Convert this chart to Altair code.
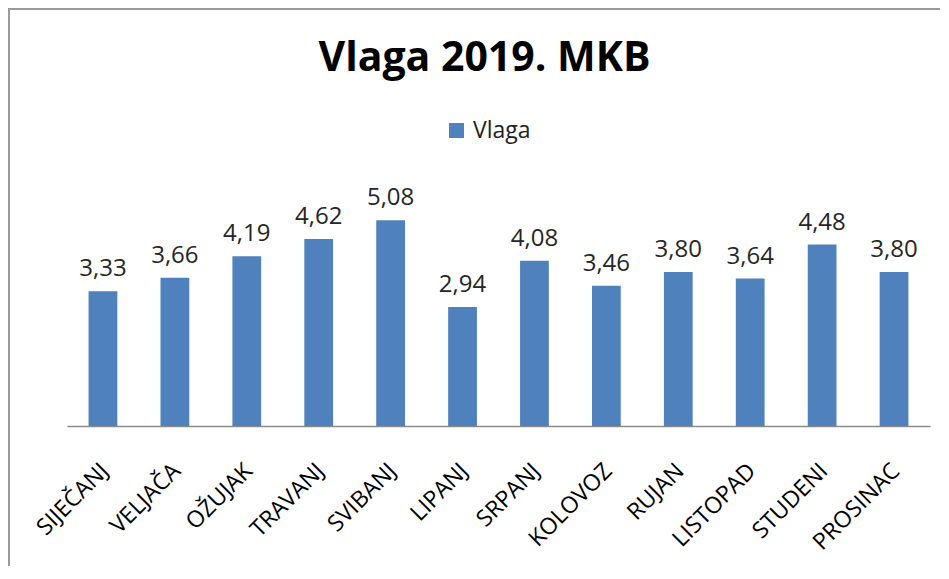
import altair as alt
import pandas as pd

months = ["SIJEČANJ", "VELJAČA", "OŽUJAK", "TRAVANJ", "SVIBANJ", "LIPANJ",
          "SRPANJ", "KOLOVOZ", "RUJAN", "LISTOPAD", "STUDENI", "PROSINAC"]
values = [3.33, 3.66, 4.19, 4.62, 5.08, 2.94, 4.08, 3.46, 3.80, 3.64, 4.48, 3.80]
series = "Vlaga"

df = pd.DataFrame({
    "Mjesec": months,
    "Vrijednost": values,
    "Serija": [series] * len(months),
    "Oznaka": [f"{v:.2f}".replace(".", ",") for v in values],
})

x = alt.X("Mjesec:N", sort=months, title=None,
          scale=alt.Scale(paddingInner=0.6, paddingOuter=0.3),
          axis=alt.Axis(labelAngle=-45, labelAlign="right", labelBaseline="middle",
                        labelFontSize=23, labelColor="#000000", labelFont="Open Sans",
                        ticks=False, labelPadding=41, labelOffset=2,
                        domainColor="#8a8a8a", domainWidth=1.5, grid=False))
y = alt.Y("Vrijednost:Q", scale=alt.Scale(domain=[0, 6]), axis=None)

bars = alt.Chart(df).mark_bar(color="#4F81BD").encode(
    x=x, y=y,
    color=alt.Color("Serija:N", scale=alt.Scale(range=["#4F81BD"]),
                    legend=alt.Legend(title=None, orient="none", legendX=378, legendY=-64,
                                      symbolType="square", symbolSize=225,
                                      labelFontSize=23, labelFont="Open Sans",
                                      labelColor="#222222", labelOffset=5)),
)

labels = alt.Chart(df).mark_text(dy=-15, baseline="alphabetic", fontSize=24,
                                 font="Open Sans", color="#262626").encode(
    x=alt.X("Mjesec:N", sort=months), y=y, text="Oznaka:N")

frame = alt.Chart(pd.DataFrame({"f": [0]})).mark_rect(
    fill=None, stroke="#9a9a9a", strokeWidth=2).encode(
    x=alt.value(-58), x2=alt.value(1000), y=alt.value(-174), y2=alt.value(600))

chart = alt.layer(frame, bars, labels).properties(
    width=863, height=243,
    autosize=alt.AutoSizeParams(type="none"),
    padding={"left": 59, "top": 175, "right": 10, "bottom": 140},
    title=alt.Title("Vlaga 2019. MKB", fontSize=41, font="Open Sans",
                    fontWeight="bold", color="#000000", anchor="middle", offset=0,
                    baseline="alphabetic", dy=104, dx=-14),
).configure_view(stroke=None)

chart.save("out.html", embed_options={"renderer": "svg", "actions": False})
